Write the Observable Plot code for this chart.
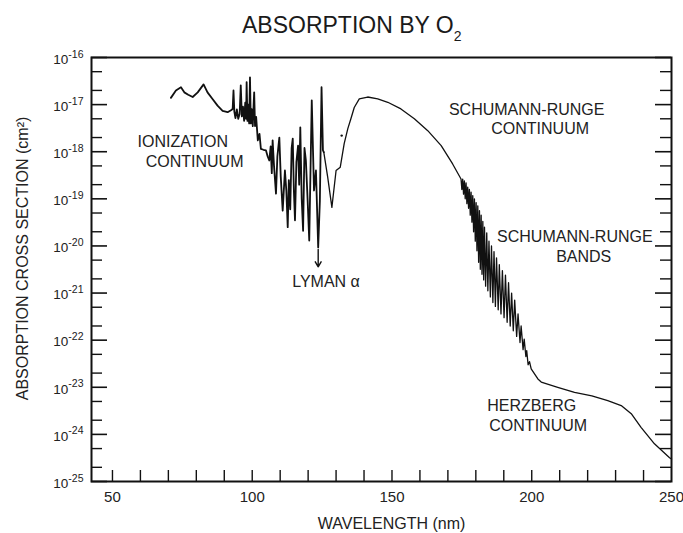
<!DOCTYPE html>
<html><head><meta charset="utf-8">
<script src="https://cdn.jsdelivr.net/npm/d3@7"></script>
<script src="https://cdn.jsdelivr.net/npm/@observablehq/plot@0.6"></script>
<style>
html,body{margin:0;padding:0;background:#fff;font-family:Arial,"Liberation Sans",Helvetica,sans-serif;overflow:hidden;}
#title{position:relative;height:40px;width:683px;}
#title span.t{position:absolute;left:242px;top:14px;font-size:23px;line-height:23px;color:#1a1a1a;white-space:nowrap;}
#title span.s{font-size:14px;position:relative;top:8px;}
#chart svg{display:block;}
</style></head><body>
<div id="title"><span class="t">ABSORPTION BY O<span class="s">2</span></span></div>
<div id="chart"></div>
<script>
// ---- data ----
// Ionization continuum + Lyman region (nm, cm^2)
const ionNm = [70.9,72.7,74.5,75.7,77.1,78.7,80.5,82.6,84.0,85.8,87.6,89.4,91.2,92.4,93.0,93.3,93.6,94.0,94.5,95.0,95.5,95.9,96.3,96.7,97.1,97.5,97.8,98.0,98.3,98.6,98.9,99.2,99.5,99.8,100.2,100.5,100.7,101.0,101.4,102.0,102.6,103.1,104.0,104.9,105.5,106.1,106.6,107.0,107.3,107.8,108.5,109.0,109.7,110.2,110.9,111.7,112.2,112.7,113.1,113.6,114.1,114.5,114.9,115.3,115.8,116.4,116.8,117.2,117.7,118.2,118.7,119.2,119.8,120.4,121.3,122.1,122.8,123.6,124.2,124.8,125.3,125.6];
const ionSigma = [1.39e-17,2.0e-17,2.34e-17,1.82e-17,1.62e-17,1.45e-17,1.82e-17,2.69e-17,1.82e-17,1.32e-17,9.5e-18,7.4e-18,6.9e-18,7.6e-18,8.1e-18,2.0e-17,7.1e-18,5.2e-18,7.9e-18,5.0e-18,6.3e-18,2.57e-17,5.6e-18,9e-18,4.5e-18,1.1e-17,5e-18,3.0e-17,4.5e-18,1.0e-17,4e-18,3.8e-17,4e-18,8e-18,3.5e-18,1.0e-17,1.82e-17,3.5e-18,5.5e-18,1.74e-18,2.4e-18,1.15e-18,1.1e-18,1.07e-18,8e-19,6.5e-19,1.3e-18,3.5e-19,1.74e-18,5e-19,1.29e-19,8e-19,2.0e-18,3e-19,5.6e-20,4.0e-19,1.5e-19,2.5e-20,2.5e-19,6e-20,1.2e-18,1.9e-18,1.5e-19,3.5e-20,6e-19,1.35e-18,2e-19,3.3e-18,1e-19,2.1e-20,1.2e-18,6.5e-19,1e-19,1.3e-20,1.23e-17,1.5e-19,4.0e-19,9.3e-21,9e-20,2.34e-17,1.07e-18,9.8e-19];
// window region + Schumann-Runge continuum
const contNm = [125.6,127.0,128.5,130.0,131.5,132.9,134.2,135.3,136.5,138.3,141.3,144.9,148.5,153.2,158.0,162.8,167.6,171.7,174.7];
const contSigma = [9.8e-19,2.9e-19,6.6e-20,4.0e-19,4.7e-19,1.48e-18,3.1e-18,5.0e-18,8.7e-18,1.32e-17,1.45e-17,1.32e-17,1.12e-17,8.1e-18,5.0e-18,2.8e-18,1.35e-18,5.5e-19,2.63e-19];
// Schumann-Runge bands
const bandNm = [175.0,175.3,175.6,175.9,176.2,176.5,176.8,177.1,177.4,177.7,178.0,178.3,178.6,178.9,179.2,179.5,179.8,180.1,180.4,180.7,181.0,181.3,181.6,181.9,182.2,182.5,182.8,183.1,183.5,183.9,184.3,184.7,185.2,185.6,186.1,186.5,187.0,187.4,188.0,188.4,189.0,189.5,190.1,190.6,191.2,191.7,192.3,192.8,193.4,193.9,194.6,195.1,195.8,196.2,196.9,197.3,197.9,198.2,198.7,199.2,199.8];
const bandSigma = [1.58e-19,2.63e-19,1.26e-19,2.4e-19,1.0e-19,2.19e-19,7.9e-20,1.78e-19,6.3e-20,1.58e-19,4.5e-20,1.38e-19,3.2e-20,1.17e-19,2.0e-20,1.0e-19,1.26e-20,8.3e-20,7.9e-21,7.1e-20,4.5e-21,5.6e-20,3.2e-21,4.5e-20,2.5e-21,3.3e-20,1.9e-21,2.5e-20,1.4e-21,1.9e-20,1.12e-21,1.26e-20,8.3e-22,1.0e-20,6.3e-22,7.6e-21,5.2e-22,5.6e-21,4.4e-22,4.0e-21,3.6e-22,3.0e-21,3.0e-22,2.4e-21,2.4e-22,1.66e-21,2.0e-22,1.0e-21,1.58e-22,7.1e-22,1.2e-22,3.6e-22,8.9e-23,2.0e-22,6.3e-23,1.05e-22,4.5e-23,6.0e-23,3.0e-23,3.5e-23,2.45e-23];
// Herzberg continuum
const herzNm = [202.2,203.4,209.3,215.3,221.5,227.2,232.0,235.6,239.1,243.9,249.3,250.0];
const herzSigma = [1.5e-23,1.29e-23,1.0e-23,7.8e-24,6.6e-24,5.2e-24,4.1e-24,2.75e-24,1.41e-24,6.3e-25,3.2e-25,3.0e-25];
// isolated point near 132 nm
const dotNm = [132.0];
const dotSigma = [2.2e-18];

// axes
const xLabelTicks = [50,100,150,200,250];
const xMinorTicks = [50,60,70,80,90,100,110,120,130,140,150,160,170,180,190,200,210,220,230,240];
const yMajorTicks = [1e-16,1e-17,1e-18,1e-19,1e-20,1e-21,1e-22,1e-23,1e-24,1e-25];
const yMinorTicks = [5e-17,2e-17,5e-18,2e-18,5e-19,2e-19,5e-20,2e-20,5e-21,2e-21,5e-22,2e-22,5e-23,2e-23,5e-24,2e-24,5e-25,2e-25];

// annotations (text, wavelength, cross section)
const startText = ["IONIZATION","CONTINUUM","SCHUMANN-RUNGE"];
const startNm = [59.0,61.9,187.6];
const startSigma = [1.24e-18,4.7e-19,1.2e-20];
const midText = ["SCHUMANN-RUNGE","CONTINUUM","BANDS","LYMAN \u03b1"];
const midNm = [198.2,203.0,218.6,126.4];
const midSigma = [6.07e-18,2.38e-18,4.5e-21,1.33e-21];
const endText = ["HERZBERG","CONTINUUM"];
const endNm = [215.9,219.8];
const endSigma = [3.2e-24,1.2e-24];
const lymanNm = [123.6];
const lymanFrom = [8.4e-21];
const lymanTo = [3.6e-21];

// ---- build ----
const pts = (n,s)=>n.map((x,i)=>({x, y: s[i]}));
const ionCurve = pts(ionNm, ionSigma);
const restCurve = [...pts(contNm, contSigma), ...pts(bandNm, bandSigma), ...pts(herzNm, herzSigma)];
const W = 683, H = 493, mL = 91, mR = 12, mT = 17, mB = 52;
const fW = W - mL - mR, fH = H - mT - mB;
const ink = "#111";
const txt = "#222";
const mk = (t,n,s)=>t.map((d,i)=>({t:d,x:n[i],y:s[i]}));

const plot = Plot.plot({
  width: W, height: H,
  marginLeft: mL, marginRight: mR, marginTop: mT, marginBottom: mB,
  style: {fontFamily: "Arial, 'Liberation Sans', Helvetica, sans-serif", background: "white", overflow: "visible"},
  x: {domain: [42.5, 250]},
  y: {type: "log", domain: [1e-25, 1e-16]},
  marks: [
    Plot.tickY(yMajorTicks, {y: d=>d, insetRight: fW - 16, stroke: ink, strokeWidth: 1.6}),
    Plot.tickY(yMinorTicks, {y: d=>d, insetRight: fW - 11, stroke: ink, strokeWidth: 1.4}),
    Plot.tickY(yMajorTicks, {y: d=>d, insetLeft: fW - 16, stroke: ink, strokeWidth: 1.6}),
    Plot.tickY(yMinorTicks, {y: d=>d, insetLeft: fW - 11, stroke: ink, strokeWidth: 1.4}),
    Plot.tickX(xMinorTicks, {x: d=>d, insetTop: fH - 11, stroke: ink, strokeWidth: 1.4}),
    Plot.axisX({ticks: xLabelTicks, tickSize: 0, tickPadding: 10, fontSize: 15, label: null, fill: txt}),
    Plot.axisY({ticks: yMajorTicks, tickSize: 0, tickPadding: 8, fontSize: 13.5, label: null, fill: txt, dy: 2,
      tickFormat: d => "10^" + Math.round(Math.log10(d))}),
    Plot.text(["ABSORPTION CROSS SECTION (cm\u00b2)"], {frameAnchor: "left", rotate: -90, dx: -68.5, dy: -11, fontSize: 16, textAnchor: "middle", lineAnchor: "middle", fill: txt}),
    Plot.text(["WAVELENGTH (nm)"], {frameAnchor: "bottom", dx: 10, dy: 47, fontSize: 16, lineAnchor: "bottom", fill: txt}),
    Plot.line(ionCurve, {x: "x", y: "y", stroke: ink, strokeWidth: 1.8}),
    Plot.line(restCurve, {x: "x", y: "y", stroke: ink, strokeWidth: 1.3}),
    Plot.dot(pts(dotNm, dotSigma), {x: "x", y: "y", r: 1.2, fill: ink, stroke: null}),
    Plot.arrow(lymanNm.map((x,i)=>({x, y1: lymanFrom[i], y2: lymanTo[i]})), {x1: "x", x2: "x", y1: "y1", y2: "y2", stroke: ink, strokeWidth: 1.4, headLength: 7}),
    Plot.text(mk(startText,startNm,startSigma), {x: "x", y: "y", text: "t", textAnchor: "start", lineAnchor: "bottom", fontSize: 16, fill: txt}),
    Plot.text(mk(midText,midNm,midSigma), {x: "x", y: "y", text: "t", textAnchor: "middle", lineAnchor: "bottom", fontSize: 16, fill: txt}),
    Plot.text(mk(endText,endNm,endSigma), {x: "x", y: "y", text: "t", textAnchor: "end", lineAnchor: "bottom", fontSize: 16, fill: txt}),
    Plot.frame({stroke: ink, strokeWidth: 2})
  ]
});
// superscript exponents on y tick labels
plot.querySelectorAll('g[aria-label="y-axis tick label"] text').forEach(t => {
  const s = t.textContent;
  if (!s.startsWith("10^")) return;
  const e = s.slice(3);
  t.textContent = "";
  const ns = "http://www.w3.org/2000/svg";
  const a = document.createElementNS(ns, "tspan"); a.textContent = "10";
  const b = document.createElementNS(ns, "tspan"); b.textContent = e;
  b.setAttribute("dy", "-0.6em"); b.setAttribute("font-size", "10.5");
  t.appendChild(a); t.appendChild(b);
});
document.getElementById("chart").appendChild(plot);
</script>
</body></html>
